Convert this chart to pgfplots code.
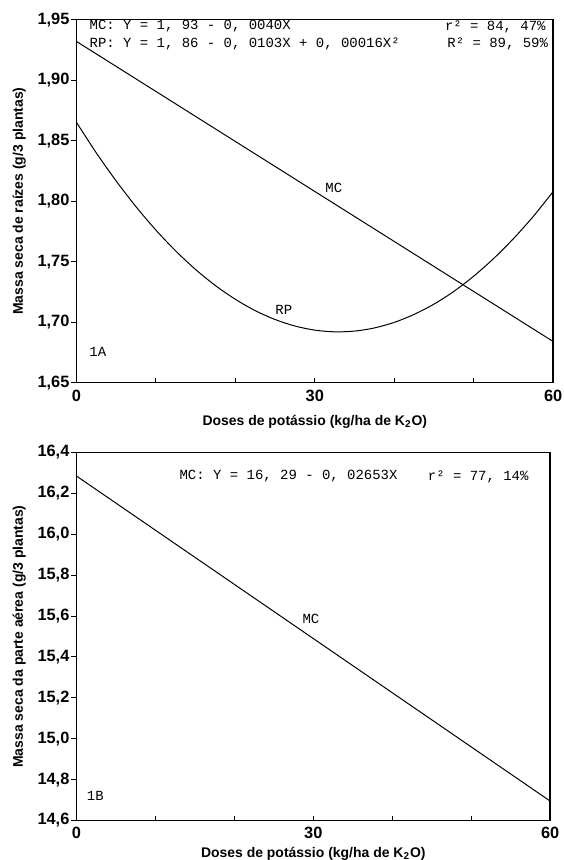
\documentclass[border=0pt]{standalone}
\usepackage{fontspec}
\setmainfont{Liberation Sans}
\newfontfamily\annfont{Liberation Mono}
\usepackage{pgfplots}
\pgfplotsset{compat=1.18}

\pgfplotsset{
  massa/.style={
    scale only axis,
    xmin=0, xmax=60, xtick={0,30,60}, minor xtick={10,20,40,50},
    xtick pos=bottom, ytick pos=left,
    tick align=inside,
    major tick length=2.5pt, minor tick length=2.5pt,
    every y tick/.append style={xshift=-2.5pt},
    tick style={black, line width=0.5pt},
    axis line style={line width=0.7pt},
    ticklabel style={font=\fontsize{8.2}{9}\selectfont\bfseries},
    label style={font=\fontsize{7}{8}\selectfont\bfseries},
    xlabel={Doses de potássio (kg/ha de K\textsubscript{2}O)},
    ylabel style={yshift=-1pt},
    /pgf/number format/assume math mode=true,
    clip=false,
  },
}
\tikzset{ann/.style={font=\fontsize{7}{8}\selectfont\annfont, inner sep=0pt}}

\begin{document}
\begin{tikzpicture}
% 1A
\begin{axis}[massa, width=239pt, height=182pt,
  ymin=1.65, ymax=1.95,
  ytick={1.65,1.70,1.75,1.80,1.85,1.90,1.95},
  yticklabel style={/pgf/number format/.cd, fixed, fixed zerofill, precision=2, use comma},
  ylabel={Massa seca de raízes (g/3 plantas)},
  xlabel style={yshift=0pt},
]
\addplot[black, line width=0.5pt] coordinates {(0,1.932) (60,1.684)};
\addplot[black, line width=0.5pt, smooth] coordinates {
  (0,1.8652) (2.5,1.8399) (5,1.8167) (7.5,1.7954) (10,1.7761) (12.5,1.7588)
  (15,1.7435) (17.5,1.7302) (20,1.7189) (22.5,1.7095) (25,1.7022) (27.5,1.6968)
  (30,1.6934) (32.5,1.6920) (35,1.6926) (37.5,1.6952) (40,1.6998) (42.5,1.7064)
  (45,1.7149) (47.5,1.7254) (50,1.7380) (52.5,1.7525) (55,1.7690) (57.5,1.7874)
  (60,1.8079)};
\node[ann, anchor=west] at (rel axis cs:0.027,0.981) {MC: Y = 1, 93 - 0, 0040X};
\node[ann, anchor=east] at (rel axis cs:0.985,0.981) {r² = 84, 47\%};
\node[ann, anchor=west] at (rel axis cs:0.027,0.934) {RP: Y = 1, 86 - 0, 0103X + 0, 00016X²};
\node[ann, anchor=east] at (rel axis cs:0.99,0.934) {R² = 89, 59\%};
\node[ann] at (axis cs:32.4,1.811) {MC};
\node[ann] at (axis cs:26.1,1.710) {RP};
\node[ann] at (rel axis cs:0.045,0.085) {1A};
\end{axis}
% 1B
\begin{axis}[massa, width=237.5pt, height=184.5pt,
  at={(0pt,-35pt)}, anchor=north west,
  ymin=14.6, ymax=16.4,
  ytick={14.6,14.8,15.0,15.2,15.4,15.6,15.8,16.0,16.2,16.4},
  yticklabel style={/pgf/number format/.cd, fixed, fixed zerofill, precision=1, use comma},
  ylabel={Massa seca da parte aérea (g/3 plantas)},
  xlabel style={inner sep=0pt, yshift=-0.3pt},
]
\addplot[black, line width=0.5pt] coordinates {(0,16.285) (60,14.695)};
\node[ann, anchor=west] at (rel axis cs:0.217,0.935) {MC: Y = 16, 29 - 0, 02653X};
\node[ann, anchor=east] at (rel axis cs:0.955,0.935) {r² = 77, 14\%};
\node[ann] at (axis cs:29.7,15.585) {MC};
\node[ann] at (rel axis cs:0.04,0.068) {1B};
\end{axis}
% frame the page: a little blank on the left and top, none right of the last tick label
\coordinate (bbsw) at (current bounding box.south west);
\coordinate (bbne) at (current bounding box.north east);
\pgfresetboundingbox
\useasboundingbox ([xshift=-3pt]bbsw) rectangle ([xshift=-2.7pt, yshift=3pt]bbne);
\end{tikzpicture}
\end{document}
